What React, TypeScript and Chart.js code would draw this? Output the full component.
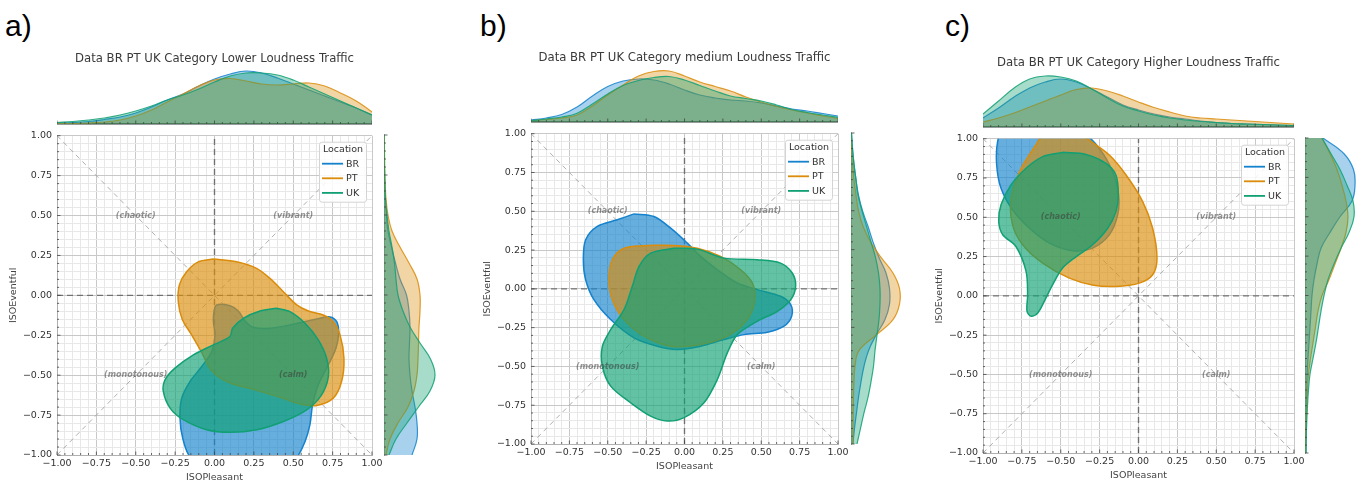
import React, { useEffect, useRef } from 'react';
import { Chart, registerables } from 'chart.js';

Chart.register(...registerables);

// ---------------- DATA ----------------
const LOCATIONS = ['BR', 'PT', 'UK'];
const GRID = [-1, -0.9, -0.8, -0.7, -0.6, -0.5, -0.4, -0.3, -0.2, -0.1, 0, 0.1, 0.2, 0.3, 0.4, 0.5, 0.6, 0.7, 0.8, 0.9, 1];
const MAJOR_TICKS = [-1, -0.75, -0.5, -0.25, 0, 0.25, 0.5, 0.75, 1];
const DIAGONAL = [-1, 1];
const QUADRANT_LABELS = ['(chaotic)', '(vibrant)', '(monotonous)', '(calm)'];
const QUADRANT_X = [-0.5, 0.5, -0.5, 0.5];
const QUADRANT_Y = [0.5, 0.5, -0.5, -0.5];
const TITLES = [
  'Data BR PT UK Category Lower Loudness Traffic',
  'Data BR PT UK Category medium Loudness Traffic',
  'Data BR PT UK Category Higher Loudness Traffic',
];
const PANEL_LABELS = ['a)', 'b)', 'c)'];

type Pt = [number, number];

// 50% density contours (ISOPleasant, ISOEventful)
const contourA_BR: Pt[] = [[0.225, -1.12], [-0.03, -1.09], [-0.156, -1.01], [-0.202, -0.894], [-0.219, -0.769], [-0.208, -0.644], [-0.156, -0.54], [-0.081, -0.446], [-0.018, -0.352], [0.003, -0.248], [-0.007, -0.165], [-0.003, -0.102], [0.014, -0.06], [0.098, -0.065], [0.151, -0.098], [0.194, -0.16], [0.247, -0.2], [0.352, -0.206], [0.5, -0.181], [0.649, -0.148], [0.733, -0.135], [0.776, -0.165], [0.788, -0.237], [0.771, -0.331], [0.723, -0.435], [0.659, -0.56], [0.623, -0.685], [0.606, -0.81], [0.575, -0.915], [0.52, -1.02], [0.45, -1.08]];
const contourA_PT: Pt[] = [[-0.007, 0.227], [0.14, 0.21], [0.267, 0.169], [0.352, 0.106], [0.437, 0.023], [0.522, -0.06], [0.6, -0.1], [0.69, -0.123], [0.754, -0.165], [0.797, -0.248], [0.822, -0.394], [0.807, -0.54], [0.754, -0.644], [0.649, -0.69], [0.543, -0.681], [0.42, -0.64], [0.25, -0.59], [0.09, -0.545], [-0.02, -0.47], [-0.08, -0.36], [-0.15, -0.24], [-0.205, -0.15], [-0.23, -0.04], [-0.223, 0.065], [-0.177, 0.148], [-0.103, 0.21]];
const contourA_UK: Pt[] = [[0.395, -0.081], [0.479, -0.102], [0.575, -0.175], [0.659, -0.279], [0.712, -0.394], [0.723, -0.508], [0.68, -0.623], [0.585, -0.717], [0.437, -0.79], [0.268, -0.842], [0.098, -0.858], [-0.05, -0.842], [-0.198, -0.779], [-0.282, -0.706], [-0.325, -0.602], [-0.314, -0.529], [-0.251, -0.456], [-0.134, -0.373], [-0.007, -0.31], [0.098, -0.258], [0.115, -0.206], [0.183, -0.144], [0.289, -0.098]];

const contourB_BR: Pt[] = [[-0.329, 0.483], [-0.199, 0.466], [-0.09, 0.391], [0.018, 0.295], [0.105, 0.209], [0.214, 0.123], [0.344, 0.038], [0.474, -0.005], [0.626, -0.048], [0.692, -0.102], [0.698, -0.177], [0.648, -0.241], [0.54, -0.28], [0.388, -0.295], [0.257, -0.327], [0.105, -0.37], [-0.047, -0.391], [-0.177, -0.37], [-0.329, -0.316], [-0.481, -0.198], [-0.59, -0.07], [-0.644, 0.059], [-0.659, 0.188], [-0.644, 0.316], [-0.568, 0.402], [-0.438, 0.445]];
const contourB_PT: Pt[] = [[-0.242, 0.28], [-0.068, 0.28], [0.083, 0.262], [0.235, 0.209], [0.366, 0.123], [0.442, 0.038], [0.459, -0.07], [0.409, -0.198], [0.279, -0.305], [0.105, -0.359], [-0.09, -0.37], [-0.264, -0.305], [-0.394, -0.198], [-0.47, -0.07], [-0.492, 0.059], [-0.47, 0.188], [-0.394, 0.262]];
const contourB_UK: Pt[] = [[-0.068, 0.262], [0.083, 0.256], [0.257, 0.198], [0.474, 0.188], [0.626, 0.166], [0.702, 0.102], [0.724, 0.016], [0.692, -0.07], [0.605, -0.145], [0.474, -0.209], [0.344, -0.295], [0.279, -0.413], [0.214, -0.584], [0.127, -0.734], [-0.003, -0.83], [-0.112, -0.852], [-0.221, -0.82], [-0.351, -0.734], [-0.481, -0.627], [-0.535, -0.499], [-0.535, -0.37], [-0.481, -0.263], [-0.394, -0.134], [-0.34, 0.016], [-0.296, 0.145], [-0.22, 0.23]];

const contourC_BR: Pt[] = [[-0.552, 1.15], [-0.359, 1.044], [-0.252, 0.938], [-0.166, 0.79], [-0.128, 0.642], [-0.134, 0.515], [-0.188, 0.388], [-0.295, 0.304], [-0.423, 0.287], [-0.573, 0.336], [-0.702, 0.431], [-0.81, 0.547], [-0.884, 0.684], [-0.912, 0.833], [-0.906, 0.981], [-0.852, 1.13], [-0.723, 1.172]];
const contourC_PT: Pt[] = [[-0.5, 1.13], [-0.42, 1.07], [-0.33, 1.0], [-0.188, 0.896], [-0.08, 0.769], [0.027, 0.6], [0.091, 0.43], [0.119, 0.24], [0.091, 0.134], [0.005, 0.081], [-0.145, 0.06], [-0.29, 0.068], [-0.445, 0.113], [-0.616, 0.208], [-0.745, 0.325], [-0.81, 0.452], [-0.82, 0.621], [-0.76, 0.8], [-0.66, 0.96], [-0.58, 1.08]];
const contourC_UK: Pt[] = [[-0.488, 0.913], [-0.338, 0.9], [-0.209, 0.843], [-0.145, 0.769], [-0.13, 0.642], [-0.145, 0.536], [-0.198, 0.43], [-0.295, 0.325], [-0.4, 0.25], [-0.488, 0.177], [-0.552, 0.071], [-0.606, -0.035], [-0.648, -0.109], [-0.691, -0.13], [-0.717, -0.098], [-0.713, 0.007], [-0.723, 0.156], [-0.788, 0.314], [-0.873, 0.389], [-0.899, 0.473], [-0.884, 0.579], [-0.82, 0.706], [-0.723, 0.812], [-0.616, 0.886]];

// marginal densities of ISOPleasant (top), on GRID
const topA_BR = [1, 1.5, 2.5, 4.5, 7, 11, 17, 24, 30, 38, 45, 50, 53, 51, 46, 40, 34, 28, 22, 16, 9];
const topA_PT = [0.3, 0.5, 1, 2, 4, 8, 14, 22, 30, 38, 44, 45.5, 43, 40, 39, 40, 41, 38, 31, 23, 12];
const topA_UK = [1.5, 2.5, 4, 6, 9, 13, 18, 24, 29, 35, 42, 48, 51, 51, 49, 44, 37, 30, 23, 16, 9];
const topB_BR = [2, 4, 7.5, 15, 26, 35.5, 41, 43, 42, 38, 32, 27, 24, 22, 21, 19, 16, 13, 11, 8.5, 6];
const topB_PT = [1.3, 2.5, 4, 7, 16, 27, 37, 46, 50.5, 51, 46, 40, 35.5, 31, 25, 20, 15.5, 12, 9, 6, 3.7];
const topB_UK = [1.3, 3, 5, 8.7, 18, 28, 36.5, 41.5, 44.5, 45.5, 42, 36.5, 31, 26, 23.5, 21, 17, 12.5, 9.5, 7, 4.7];
const topC_BR = [9, 19, 30, 39, 45, 48, 45, 38, 30, 22, 17, 13, 10, 8, 6, 4.5, 3.5, 3, 2.5, 2, 1.5];
const topC_PT = [5, 9, 14, 20, 26, 32, 37.5, 39, 36, 31, 25, 19.5, 15, 11, 9, 8, 7, 6, 5, 4, 3];
const topC_UK = [13, 26, 39, 48, 51, 50, 46, 38, 29, 21, 16, 12, 9, 7, 5.5, 4.5, 3.5, 3, 2.5, 2, 1.5];

// marginal densities of ISOEventful (right), on GRID
const rightA_BR = [28, 33, 33, 31, 28, 26, 25, 25.5, 26, 25, 22.5, 16, 11.5, 7.5, 4, 2.5, 1.5, 0.8, 0.4, 0.2, 0.1];
const rightA_PT = [2, 6, 14, 24, 30, 33, 34, 34.5, 35, 36, 36, 33, 25, 16, 8, 4, 2, 1.2, 0.8, 0.5, 0.3];
const rightA_UK = [5, 12, 23, 34.5, 46, 51, 46.5, 36, 26, 19, 14, 12, 10.5, 8, 5, 3, 1.5, 0.8, 0.4, 0.2, 0.1];
const rightB_BR = [2, 3.5, 5.5, 7.5, 10, 13, 17.5, 25, 34, 38.5, 38.5, 35, 28, 22, 17, 11.5, 7.5, 5, 3, 1.5, 0.5];
const rightB_PT = [2, 2, 2.2, 2.5, 3, 4, 8, 25, 42, 48.5, 48.5, 42, 30, 19.5, 12, 7.5, 5, 3, 1.5, 0.5, 0.2];
const rightB_UK = [6, 9.5, 13, 17, 20, 22.5, 24, 26, 28, 29, 29, 27.5, 24.5, 20, 15.5, 11, 7, 5, 3, 1.5, 0.5];
const rightC_BR = [1, 1.1, 1.3, 1.5, 1.8, 2.2, 3, 4, 5, 6, 7, 9, 12, 16, 25, 35, 47, 50, 48.5, 39, 18];
const rightC_PT = [0.5, 0.8, 1.2, 1.8, 2.5, 3.5, 5.5, 8, 10.5, 13, 17, 24, 30, 36, 41, 43, 41, 37, 32, 25, 17];
const rightC_UK = [1, 1.2, 1.8, 2.5, 3.5, 5, 8, 11, 13.5, 16, 19, 23, 29, 36, 44, 49, 48, 42, 35, 26, 17];

// ---------------- STYLE / LAYOUT ----------------
const FONT = 'DejaVu Sans';
const DENSITY_MAX = 56;
const COLORS: Record<string, number[]> = { BR: [20, 130, 205], PT: [218, 140, 10], UK: [16, 160, 115] };
const ORDER: Record<string, number> = { BR: 3, PT: 2, UK: 1 };
const rgba = (c: number[], a: number) => `rgba(${c[0]},${c[1]},${c[2]},${a})`;

interface PanelLayout {
  L: number; T: number; R: number; B: number; mT: number; mB: number; rL: number; titleY: number; labelX: number; labelY: number;
  title: string; label: string;
  contours: Record<string, Pt[]>; top: Record<string, number[]>; right: Record<string, number[]>;
}

const PANELS: PanelLayout[] = [
  { L: 57, T: 135, R: 372, B: 455, mT: 68, mB: 124, rL: 384, titleY: 59, labelX: 5, labelY: 28, title: TITLES[0], label: PANEL_LABELS[0],
    contours: { BR: contourA_BR, PT: contourA_PT, UK: contourA_UK }, top: { BR: topA_BR, PT: topA_PT, UK: topA_UK }, right: { BR: rightA_BR, PT: rightA_PT, UK: rightA_UK } },
  { L: 531, T: 133, R: 838, B: 444, mT: 66, mB: 122, rL: 851, titleY: 58, labelX: 480, labelY: 28, title: TITLES[1], label: PANEL_LABELS[1],
    contours: { BR: contourB_BR, PT: contourB_PT, UK: contourB_UK }, top: { BR: topB_BR, PT: topB_PT, UK: topB_UK }, right: { BR: rightB_BR, PT: rightB_PT, UK: rightB_UK } },
  { L: 983, T: 138, R: 1294, B: 453, mT: 71, mB: 127, rL: 1305, titleY: 63, labelX: 945, labelY: 28, title: TITLES[2], label: PANEL_LABELS[2],
    contours: { BR: contourC_BR, PT: contourC_PT, UK: contourC_UK }, top: { BR: topC_BR, PT: topC_PT, UK: topC_UK }, right: { BR: rightC_BR, PT: rightC_PT, UK: rightC_UK } },
];

const isMajor = (v: number) => MAJOR_TICKS.some((m) => Math.abs(m - v) < 1e-6);
const fmt = (v: number) => {
  const s = Math.abs(v).toFixed(2);
  return v < -1e-9 ? '\u2212' + s : s;
};

function drawInTicks(chart: any, scaleId: string, side: 'bottom' | 'left') {
  const scale = chart.scales[scaleId];
  const { ctx, chartArea: a } = chart;
  ctx.save();
  ctx.strokeStyle = '#444';
  ctx.lineWidth = 0.8;
  for (const t of scale.ticks) {
    const p = scale.getPixelForValue(t.value);
    const len = isMajor(t.value) ? 3.5 : 2;
    ctx.beginPath();
    if (side === 'bottom') {
      ctx.moveTo(p, a.bottom);
      ctx.lineTo(p, a.bottom - len);
    } else {
      ctx.moveTo(a.left, p);
      ctx.lineTo(a.left + len, p);
    }
    ctx.stroke();
  }
  ctx.restore();
}

const quadrantPlugin = {
  id: 'quadrantLabels',
  afterDatasetsDraw(chart: any) {
    const { ctx, scales } = chart;
    ctx.save();
    ctx.font = `italic bold 8px "${FONT}"`;
    ctx.fillStyle = 'rgba(60,60,60,0.55)';
    ctx.textAlign = 'center';
    ctx.textBaseline = 'middle';
    QUADRANT_LABELS.forEach((t, i) => {
      ctx.fillText(t, scales.x.getPixelForValue(QUADRANT_X[i]), scales.y.getPixelForValue(QUADRANT_Y[i]));
    });
    ctx.restore();
  },
};

const legendBoxPlugin = {
  id: 'legendBox',
  afterDraw(chart: any) {
    const { ctx, chartArea } = chart;
    const items = chart.data.datasets.filter((d: any) => LOCATIONS.includes(d.label));
    const w = 47, h = 60;
    const x = chartArea.right - 6 - w;
    const y = chartArea.top + 6;
    ctx.save();
    ctx.fillStyle = 'rgba(255,255,255,0.85)';
    ctx.strokeStyle = '#d4d4d4';
    ctx.lineWidth = 1;
    ctx.beginPath();
    ctx.roundRect(x + 0.5, y + 0.5, w, h, 2.5);
    ctx.fill();
    ctx.stroke();
    ctx.font = `9.5px "${FONT}"`;
    ctx.fillStyle = '#333';
    ctx.textBaseline = 'middle';
    ctx.textAlign = 'center';
    ctx.fillText('Location', x + w / 2 + 0.5, y + 7.5);
    ctx.textAlign = 'left';
    items.forEach((d: any, i: number) => {
      const ry = y + 22 + i * 14.6;
      ctx.strokeStyle = d.borderColor;
      ctx.lineWidth = 1.8;
      ctx.beginPath();
      ctx.moveTo(x + 3, ry);
      ctx.lineTo(x + 24, ry);
      ctx.stroke();
      ctx.fillStyle = '#333';
      ctx.fillText(d.label, x + 27, ry + 0.5);
    });
    ctx.restore();
  },
};

const mainTicksPlugin = {
  id: 'mainTicks',
  afterDatasetsDraw(chart: any) {
    drawInTicks(chart, 'x', 'bottom');
    drawInTicks(chart, 'y', 'left');
  },
};

function mainAxis(title: string, isX: boolean) {
  return {
    type: 'linear',
    min: -1,
    max: 1,
    ticks: {
      stepSize: 0.05,
      autoSkip: false,
      maxRotation: 0,
      minRotation: 0,
      padding: isX ? 3 : 5,
      color: '#333',
      font: { family: FONT, size: 9.5 },
      callback: (v: number) => (isMajor(v) ? fmt(v) : ''),
    },
    grid: {
      color: (c: any) => (c.tick && isMajor(c.tick.value) ? '#c8c8c8' : '#e8e8e8'),
      lineWidth: 1,
      drawTicks: false,
    },
    border: { display: true, color: '#b0b0b0' },
    title: {
      display: true,
      text: title,
      color: '#444',
      font: { family: FONT, size: 9.5 },
      padding: isX ? { top: 4, bottom: 4 } : { top: 8, bottom: 4 },
    },
    afterFit: (s: any) => {
      if (isX) s.height = 32;
      else s.width = 57;
    },
  };
}

function mainConfig(p: PanelLayout): any {
  const refLine = (data: any[], color: string, dash: number[], width: number) => ({
    data, borderColor: color, borderDash: dash, borderWidth: width, pointRadius: 0, fill: false, tension: 0, order: 10,
  });
  const datasets: any[] = [
    refLine(DIAGONAL.map((v) => ({ x: v, y: v })), 'rgba(150,150,150,0.75)', [5, 4], 1),
    refLine(DIAGONAL.map((v) => ({ x: v, y: -v })), 'rgba(150,150,150,0.75)', [5, 4], 1),
    refLine(DIAGONAL.map((v) => ({ x: v, y: 0 })), 'rgba(90,90,90,0.8)', [6, 4], 1.4),
    refLine(DIAGONAL.map((v) => ({ x: 0, y: v })), 'rgba(90,90,90,0.8)', [6, 4], 1.4),
  ];
  LOCATIONS.forEach((loc) => {
    const pts = p.contours[loc];
    datasets.push({
      label: loc,
      data: [...pts, pts[0]].map(([x, y]) => ({ x, y })),
      borderColor: rgba(COLORS[loc], 1),
      backgroundColor: rgba(COLORS[loc], 0.65),
      borderWidth: 1.5,
      fill: 'shape',
      tension: 0.32,
      capBezierPoints: false,
      pointRadius: 0,
      order: ORDER[loc],
    });
  });
  return {
    type: 'line',
    data: { datasets },
    options: {
      responsive: false,
      animation: false,
      events: [],
      layout: { padding: { left: 0, top: 10, right: 16, bottom: 0 } },
      plugins: { legend: { display: false }, tooltip: { enabled: false }, title: { display: false } },
      scales: { x: mainAxis('ISOPleasant', true), y: mainAxis('ISOEventful', false) },
    },
    plugins: [quadrantPlugin, mainTicksPlugin, legendBoxPlugin],
  };
}

const TITLE_SIZE = 11.7;

function topConfig(p: PanelLayout): any {
  const half = (TITLE_SIZE * 1.2) / 2;
  const datasets = LOCATIONS.map((loc) => ({
    label: loc,
    data: GRID.map((x, i) => ({ x, y: p.top[loc][i] })),
    borderColor: rgba(COLORS[loc], 0.85),
    backgroundColor: rgba(COLORS[loc], 0.37),
    borderWidth: 1.2,
    fill: 'origin',
    tension: 0.4,
    pointRadius: 0,
    order: ORDER[loc],
  }));
  return {
    type: 'line',
    data: { datasets },
    options: {
      responsive: false,
      animation: false,
      events: [],
      layout: { padding: { left: 0, right: 0, top: 0, bottom: 1 } },
      plugins: {
        legend: { display: false },
        tooltip: { enabled: false },
        title: {
          display: true,
          text: p.title,
          color: '#3a3a3a',
          font: { family: FONT, size: TITLE_SIZE, weight: 'normal', lineHeight: 1.2 },
          padding: { top: p.titleY - 45 - half, bottom: p.mT - p.titleY - half },
        },
      },
      scales: {
        x: {
          type: 'linear', min: -1, max: 1,
          ticks: { display: false, stepSize: 0.05, autoSkip: false },
          grid: { display: false },
          border: { display: true, color: '#2e3b38', width: 1.4 },
          afterFit: (s: any) => { s.height = 0; },
        },
        y: { type: 'linear', display: false, min: 0, max: DENSITY_MAX },
      },
    },
    plugins: [{ id: 'topTicks', afterDatasetsDraw: (c: any) => drawInTicks(c, 'x', 'bottom') }],
  };
}

function rightConfig(p: PanelLayout): any {
  const datasets = LOCATIONS.map((loc) => ({
    label: loc,
    data: GRID.map((y, i) => ({ x: p.right[loc][i], y })),
    borderColor: rgba(COLORS[loc], 0.85),
    backgroundColor: rgba(COLORS[loc], 0.37),
    borderWidth: 1.2,
    fill: 'origin',
    tension: 0.4,
    pointRadius: 0,
    order: ORDER[loc],
  }));
  return {
    type: 'line',
    data: { datasets },
    options: {
      indexAxis: 'y',
      responsive: false,
      animation: false,
      events: [],
      layout: { padding: { left: 0, right: 2, top: 10, bottom: 10 } },
      plugins: { legend: { display: false }, tooltip: { enabled: false } },
      scales: {
        y: {
          type: 'linear', min: -1, max: 1,
          ticks: { display: false, stepSize: 0.05, autoSkip: false },
          grid: { display: false },
          border: { display: true, color: '#2e3b38', width: 1.4 },
          afterFit: (s: any) => { s.width = 0; },
        },
        x: { type: 'linear', display: false, min: 0, max: DENSITY_MAX },
      },
    },
    plugins: [{ id: 'rightTicks', afterDatasetsDraw: (c: any) => drawInTicks(c, 'y', 'left') }],
  };
}

function ChartCanvas({ x, y, w, h, make }: { x: number; y: number; w: number; h: number; make: () => any }) {
  const ref = useRef<HTMLCanvasElement>(null);
  useEffect(() => {
    if (!ref.current) return;
    const chart = new Chart(ref.current, make());
    return () => chart.destroy();
  }, []);
  return <canvas ref={ref} width={w} height={h} style={{ position: 'absolute', left: x, top: y, width: w, height: h }} />;
}

function Panel({ p }: { p: PanelLayout }) {
  return (
    <>
      <div
        style={{
          position: 'absolute', left: p.labelX, top: p.labelY - 17, fontFamily: '"Liberation Sans", sans-serif',
          fontSize: 30, lineHeight: '30px', color: '#000',
        }}
      >
        {p.label}
      </div>
      <ChartCanvas x={p.L} y={45} w={p.R - p.L} h={p.mB - 45 + 1} make={() => topConfig(p)} />
      <ChartCanvas x={p.L - 57} y={p.T - 10} w={p.R - p.L + 57 + 16} h={p.B - p.T + 10 + 32} make={() => mainConfig(p)} />
      <ChartCanvas x={p.rL} y={p.T - 10} w={58} h={p.B - p.T + 20} make={() => rightConfig(p)} />
    </>
  );
}

export default function App() {
  return (
    <div style={{ position: 'absolute', left: 0, top: 0, width: 1365, height: 482, background: '#fff', overflow: 'hidden' }}>
      {PANELS.map((p, i) => (
        <Panel key={i} p={p} />
      ))}
    </div>
  );
}
